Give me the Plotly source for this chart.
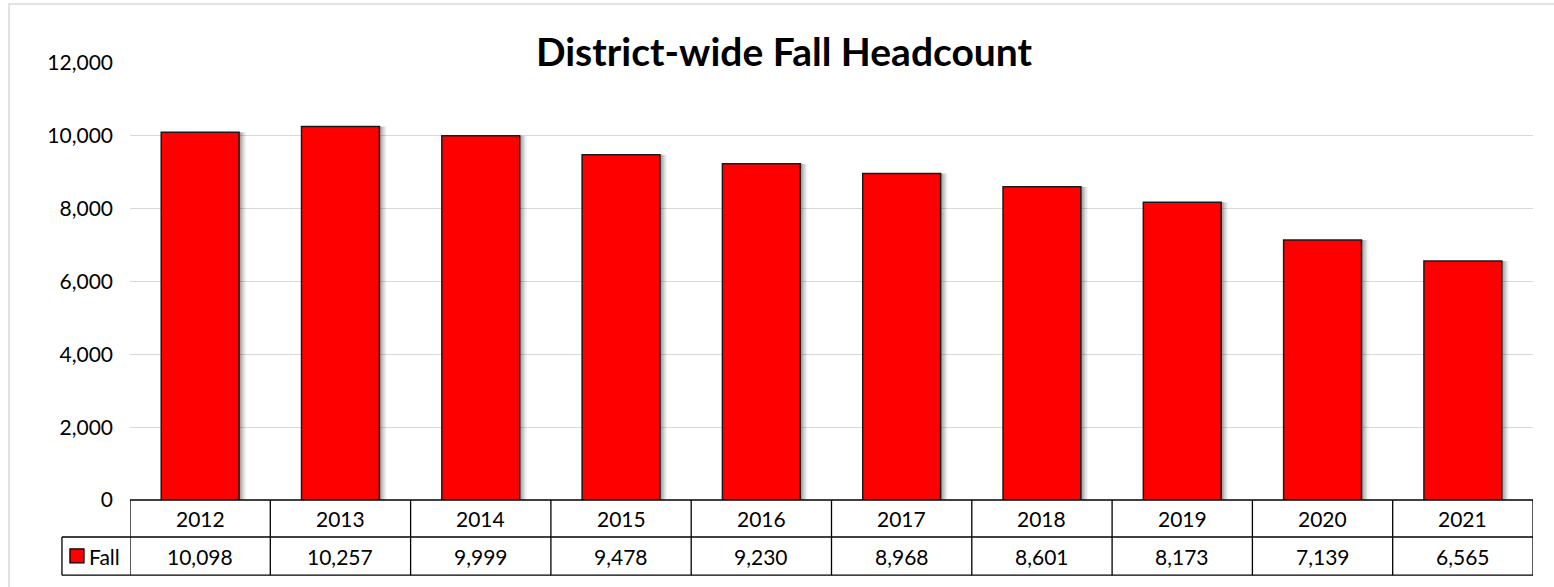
import plotly.graph_objects as go

years = ["2012", "2013", "2014", "2015", "2016", "2017", "2018", "2019", "2020", "2021"]
fall = [10098, 10257, 9999, 9478, 9230, 8968, 8601, 8173, 7139, 6565]
series_name = "Fall"
y_ticks = [0, 2000, 4000, 6000, 8000, 10000, 12000]

xs = list(range(len(years)))
BW = 0.555
FONT = "Lato"
FS = 21

fig = go.Figure()

# soft shadow layers (right/bottom)
for dx, a in [(0.05, 0.05), (0.04, 0.07), (0.03, 0.09), (0.02, 0.11), (0.01, 0.12)]:
    fig.add_trace(go.Bar(x=xs, y=fall, width=BW, offset=-BW / 2 + dx,
                         marker=dict(color=f"rgba(0,0,0,{a})", line=dict(width=0)),
                         hoverinfo="skip", showlegend=False))

fig.add_trace(go.Bar(x=xs, y=fall, width=BW, name=series_name,
                     marker=dict(color="#ff0000", line=dict(color="#1a1a1a", width=1.5)),
                     showlegend=False))

# data table
row1_top, row_mid, row_bot = 0.0, -0.0847, -0.172
tbl_left = -0.0485
line = dict(color="black", width=1.3)
for i in range(len(years) + 1):
    fig.add_shape(type="line", xref="x", yref="paper", x0=i - 0.5, x1=i - 0.5,
                  y0=row1_top, y1=row_bot, line=line)
fig.add_shape(type="line", xref="x", yref="paper", x0=-0.5, x1=len(years) - 0.5,
              y0=row1_top, y1=row1_top, line=line)
fig.add_shape(type="line", xref="paper", yref="paper", x0=tbl_left, x1=1.0,
              y0=row_mid, y1=row_mid, line=line)
fig.add_shape(type="line", xref="paper", yref="paper", x0=tbl_left, x1=1.0,
              y0=row_bot, y1=row_bot, line=line)
fig.add_shape(type="line", xref="paper", yref="paper", x0=tbl_left, x1=tbl_left,
              y0=row_mid, y1=row_bot, line=line)

for i, (yr, v) in enumerate(zip(years, fall)):
    fig.add_annotation(x=i, y=(row1_top + row_mid) / 2, xref="x", yref="paper",
                       xanchor="center", yanchor="middle",
                       text=yr, showarrow=False, font=dict(family=FONT, size=FS, color="black"))
    fig.add_annotation(x=i, y=(row_mid + row_bot) / 2, xref="x", yref="paper",
                       xanchor="center", yanchor="middle",
                       text=f"{v:,}", showarrow=False, font=dict(family=FONT, size=FS, color="black"))

# legend key in table
fig.add_shape(type="rect", xref="paper", yref="paper", x0=-0.0428, x1=-0.0328,
              y0=-0.112, y1=-0.144, fillcolor="#ff0000", line=dict(color="black", width=1.3))
fig.add_annotation(x=-0.0305, y=(row_mid + row_bot) / 2, xref="paper", yref="paper",
                   text=series_name, showarrow=False, xanchor="left", yanchor="middle",
                   font=dict(family=FONT, size=FS, color="black"))

# outer chart border
fig.add_shape(type="rect", xref="paper", yref="paper", x0=-0.0862, x1=1.05,
              y0=1.135, y1=-0.5, line=dict(color="#d9d9d9", width=1.5), layer="below")

fig.update_layout(
    width=1554, height=587,
    margin=dict(l=130, r=21, t=63, b=87),
    paper_bgcolor="white", plot_bgcolor="white",
    title=dict(text="<b>District-wide Fall Headcount</b>", x=0.5045, xanchor="center",
               y=0.911, yanchor="middle", font=dict(family=FONT, size=39, color="black")),
    barmode="overlay",
    xaxis=dict(range=[-0.5, len(years) - 0.5], showticklabels=False, showgrid=False,
               zeroline=False, showline=False, fixedrange=True),
    yaxis=dict(range=[0, 12000], tickvals=y_ticks, tickformat=",", showgrid=True,
               gridcolor="#d9d9d9", gridwidth=1.3, zeroline=False, showline=False,
               ticklabelstandoff=16, tickfont=dict(family=FONT, size=FS, color="black")),
    font=dict(family=FONT),
)

fig.write_html("out.html", config={"displayModeBar": False},
               post_script="document.body.style.margin='0';document.body.style.overflow='hidden';")
